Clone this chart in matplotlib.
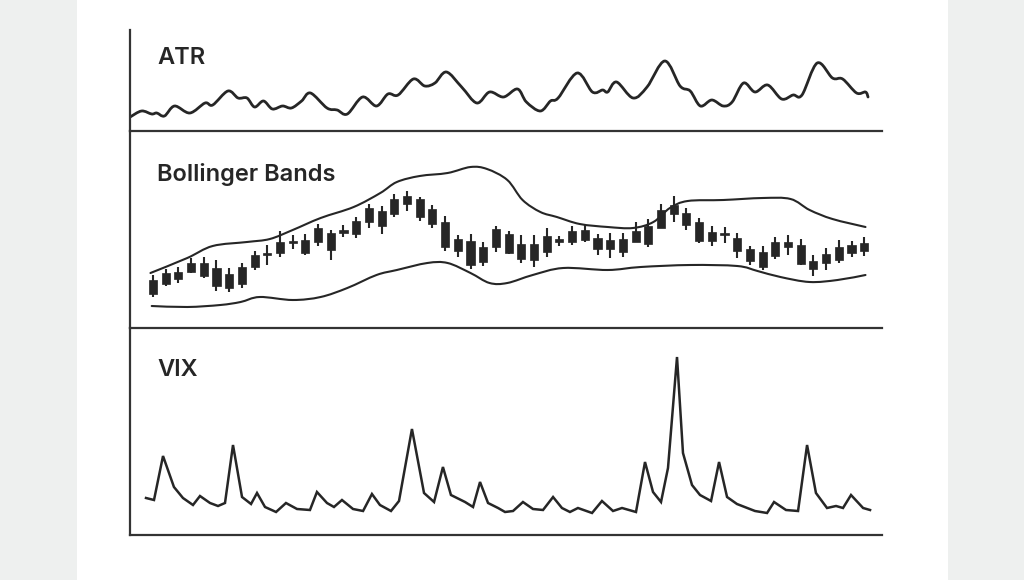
import numpy as np
import matplotlib
matplotlib.use("Agg")
import matplotlib.pyplot as plt
from matplotlib.path import Path
from matplotlib.patches import PathPatch, Rectangle

# ---------------- data ----------------
# ATR (smoothed line); time in trading-day units (candle index)
atr_t = [-1.8, -0.9, -0.1, 0.3, 0.9, 1.7, 2.9, 4.1, 4.7, 5.9, 6.7, 7.4, 8.0, 8.7, 9.4,
         10.2, 10.9, 11.7, 12.4, 13.7, 14.5, 15.3, 16.5, 17.6, 18.5, 19.3, 20.5, 21.4,
         22.2, 23.1, 24.3, 25.5, 26.5, 27.6, 28.7, 29.4, 30.5, 31.3, 31.9, 33.4, 34.6,
         35.4, 35.8, 36.5, 37.8, 38.9, 40.3, 41.5, 42.3, 43.1, 44.0, 44.9, 45.6, 46.5,
         47.4, 48.4, 49.5, 50.4, 51.1, 52.3, 53.5, 54.3, 55.4, 56.1, 56.3]
atr_v = [1.4, 2.0, 1.7, 1.8, 1.5, 2.5, 1.8, 2.8, 2.6, 4.0, 3.3, 3.3, 2.4, 3.0, 2.2,
         2.5, 2.3, 3.0, 3.8, 2.3, 2.1, 1.7, 3.4, 2.5, 3.7, 3.6, 5.2, 4.5,
         4.8, 5.9, 4.4, 2.8, 3.9, 3.4, 4.2, 2.9, 2.0, 3.0, 3.3, 5.8, 3.9,
         4.1, 3.9, 4.9, 3.3, 4.4, 7.0, 4.5, 4.0, 2.5, 3.1, 2.5, 2.9, 4.8,
         3.9, 4.6, 3.2, 3.6, 3.6, 6.8, 5.3, 5.2, 3.8, 3.9, 3.4]

# Candles (index 0..56)
c_open = [17.0, 22.0, 24.5, 28.0, 32.5, 30.0, 27.0, 22.0, 30.5, 36.5, 37.5, 42.5, 37.5,
          43.0, 47.5, 47.5, 47.0, 53.0, 58.5, 57.0, 62.0, 64.5, 59.5, 53.0, 44.5, 43.5,
          40.5, 40.5, 47.0, 42.0, 42.0, 38.0, 43.0, 43.0, 44.0, 45.0, 44.0, 44.5, 43.0,
          42.0, 50.0, 57.0, 57.5, 53.0, 48.0, 46.5, 45.0, 39.5, 38.0, 36.0, 43.0, 41.5,
          33.5, 32.5, 34.0, 37.5, 38.5]
c_close = [24.0, 27.5, 28.0, 32.5, 26.0, 21.0, 20.0, 30.5, 36.5, 37.5, 43.0, 43.0, 44.0,
           50.0, 39.0, 49.0, 53.5, 60.0, 51.0, 64.5, 66.0, 55.5, 52.0, 40.5, 38.5, 31.5,
           33.0, 49.5, 37.5, 34.5, 34.0, 46.0, 44.5, 48.5, 49.0, 39.5, 39.5, 38.0, 48.5,
           51.0, 59.0, 61.5, 51.5, 43.5, 43.5, 47.5, 38.5, 33.5, 30.5, 43.0, 40.5, 32.0,
           29.5, 37.0, 40.5, 41.5, 42.5]
c_high = [26.5, 29.5, 30.5, 35.0, 35.5, 34.0, 30.0, 32.5, 38.5, 41.5, 48.5, 46.5, 47.0,
          52.0, 49.0, 51.5, 55.5, 62.0, 61.0, 67.0, 68.5, 65.5, 61.5, 56.0, 46.5, 47.0,
          43.0, 51.0, 48.5, 46.5, 46.5, 50.0, 46.0, 51.0, 52.0, 47.0, 47.5, 47.5, 53.0,
          54.5, 62.0, 66.0, 60.0, 55.0, 51.0, 50.5, 47.5, 41.0, 41.0, 45.5, 46.5, 44.5,
          36.5, 40.0, 44.0, 43.5, 45.5]
c_low = [15.5, 21.0, 22.5, 27.5, 25.0, 18.5, 18.0, 20.0, 29.0, 31.5, 35.5, 39.5, 36.5,
         41.0, 34.0, 45.5, 45.0, 50.0, 47.0, 55.5, 58.5, 53.5, 50.0, 38.5, 35.5, 29.5,
         31.0, 38.0, 37.0, 32.5, 30.5, 35.5, 41.0, 41.5, 43.0, 36.5, 35.0, 35.5, 43.0,
         40.5, 50.0, 53.0, 49.0, 42.5, 41.0, 42.5, 35.0, 31.5, 29.0, 34.5, 36.5, 31.5,
         26.0, 29.0, 32.5, 35.5, 36.0]

# Bollinger bands
bb_up_t = [-0.2, 2.7, 4.7, 7.4, 9.2, 11.0, 13.2, 15.8, 17.9, 19.2, 21.0, 23.2, 25.0,
           26.3, 27.9, 29.1, 30.5, 31.8, 33.6, 35.8, 37.8, 39.4, 40.7, 42.1, 44.9,
           48.0, 50.2, 51.7, 53.5, 56.1]
bb_up_v = [27.5, 35.0, 41.0, 43.0, 44.5, 49.0, 55.0, 60.5, 67.5, 73.0, 76.0, 77.5, 80.5,
           79.5, 74.0, 64.0, 58.0, 55.5, 52.0, 50.5, 50.0, 53.0, 60.0, 63.5, 64.0,
           65.0, 64.5, 59.0, 54.5, 50.5]
bb_lo_t = [-0.1, 2.7, 5.3, 6.9, 8.4, 11.0, 13.2, 15.3, 17.6, 19.2, 21.6, 23.2, 25.0,
           26.5, 27.9, 29.9, 32.3, 35.8, 38.4, 42.3, 46.0, 47.6, 49.4, 51.7, 53.9, 56.1]
bb_lo_v = [11.0, 10.5, 11.5, 13.0, 15.5, 14.0, 15.5, 20.0, 26.5, 29.0, 32.5, 32.5, 27.5,
           22.5, 22.5, 26.5, 30.0, 29.0, 30.5, 31.5, 31.0, 28.5, 25.5, 23.0, 24.0, 26.5]

# VIX
vix_t = [-0.55, 0.08, 0.79, 1.65, 2.36, 3.15, 3.70, 4.49, 5.12, 5.67, 6.30, 7.01, 7.72,
         8.19, 8.82, 9.69, 10.47, 11.34, 12.36, 12.91, 13.70, 14.25, 14.88, 15.75, 16.54,
         17.24, 17.87, 18.74, 19.37, 20.39, 21.34, 22.13, 22.83, 23.46, 24.57, 25.20,
         25.75, 26.38, 27.17, 27.72, 28.35, 29.13, 29.92, 30.71, 31.50, 32.20, 32.83,
         33.46, 34.57, 35.35, 36.22, 36.93, 38.03, 38.74, 39.37, 40.00, 40.55, 41.26,
         41.73, 42.44, 43.07, 43.94, 44.57, 45.20, 45.98, 47.40, 48.35, 48.90, 49.84,
         50.79, 51.50, 52.20, 53.07, 53.78, 54.33, 54.96, 55.91, 56.46]
vix_v = [9.25, 8.75, 19.75, 12.0, 9.25, 7.5, 9.75, 8.0, 7.25, 8.0, 22.5, 9.5, 7.75,
         10.5, 7.0, 5.75, 8.0, 6.5, 6.25, 10.75, 8.0, 7.0, 8.75, 6.5, 6.0,
         10.25, 7.5, 6.0, 8.5, 26.5, 10.5, 8.25, 17.0, 10.0, 8.25, 7.0,
         13.25, 8.0, 6.75, 5.75, 6.0, 8.25, 6.5, 6.25, 9.5, 6.75, 5.75,
         6.75, 5.5, 8.5, 6.0, 6.75, 5.75, 18.25, 10.75, 8.25, 16.75, 44.5,
         20.5, 12.5, 10.0, 8.5, 18.25, 9.5, 7.75, 6.0, 5.5, 8.25, 6.25,
         6.0, 22.5, 10.5, 6.75, 7.25, 6.75, 10.0, 6.75, 6.25]

titles = ["ATR", "Bollinger Bands", "VIX"]

# ---------------- style ----------------
INK = "#262626"
AXIS = "#333333"
BG = "#eef0ef"

def smooth_path(xs, ys):
    """Catmull-Rom curve through the data points, as cubic Bezier segments."""
    p = np.column_stack([xs, ys]).astype(float)
    n = len(p)
    verts = [p[0]]
    codes = [Path.MOVETO]
    for i in range(n - 1):
        p0 = p[i - 1] if i > 0 else p[i]
        p1 = p[i]
        p2 = p[i + 1]
        p3 = p[i + 2] if i + 2 < n else p[i + 1]
        c1 = p1 + (p2 - p0) / 6.0
        c2 = p2 - (p3 - p1) / 6.0
        verts += [c1, c2, p2]
        codes += [Path.CURVE4] * 3
    return Path(verts, codes)

fig = plt.figure(figsize=(10.24, 5.8), dpi=100, facecolor=BG)
fig.patches.append(Rectangle((77 / 1024, 0), (948 - 77) / 1024, 1, transform=fig.transFigure,
                             facecolor="white", edgecolor="none", zorder=-10))

W, H = 1024, 580
L, R = 130, 882
bounds = [(30, 131), (131, 328), (328, 535)]
axes = []
for top, bot in bounds:
    ax = fig.add_axes([L / W, (H - bot) / H, (R - L) / W, (bot - top) / H])
    ax.set_zorder(2)
    ax.set_facecolor("none")
    for s in ("top", "right"):
        ax.spines[s].set_visible(False)
    for s in ("left", "bottom"):
        ax.spines[s].set_color(AXIS)
        ax.spines[s].set_linewidth(1.6)
    ax.set_xticks([])
    ax.set_yticks([])
    ax.set_xlim(-1.81, 57.4)
    axes.append(ax)

ax_atr, ax_bb, ax_vix = axes
ax_atr.set_ylim(0, 10.1)
ax_bb.set_ylim(0, 98.5)
ax_vix.set_ylim(0, 51.75)

# ATR
ax_atr.add_patch(PathPatch(smooth_path(atr_t, atr_v), fill=False, edgecolor=INK,
                           linewidth=2.0, capstyle="round", joinstyle="round"))

# Bollinger
for bt, bv in ((bb_up_t, bb_up_v), (bb_lo_t, bb_lo_v)):
    ax_bb.add_patch(PathPatch(smooth_path(bt, bv), fill=False, edgecolor=INK,
                              linewidth=1.5, capstyle="round"))
idx = np.arange(len(c_open))
o = np.array(c_open); c = np.array(c_close)
lo_body = np.minimum(o, c)
hi_body = np.maximum(o, c)
ax_bb.vlines(idx, c_low, c_high, color=INK, linewidth=1.5, zorder=3)
ax_bb.bar(idx, np.maximum(hi_body - lo_body, 0.9), bottom=lo_body, width=0.64,
          color=INK, edgecolor=INK, linewidth=0.5, zorder=4)

# VIX
ax_vix.plot(vix_t, vix_v, color=INK, linewidth=1.8, solid_joinstyle="miter")

# titles
title_y = [58, 174, 370]
for t, y in zip(titles, title_y):
    fig.text(157 / W, (H - y) / H, t, ha="left", va="center", fontsize=17,
             family=["Inter", "DejaVu Sans"], fontweight="semibold", color=INK, zorder=5)

fig.savefig("out.png", dpi=100, facecolor=BG)
